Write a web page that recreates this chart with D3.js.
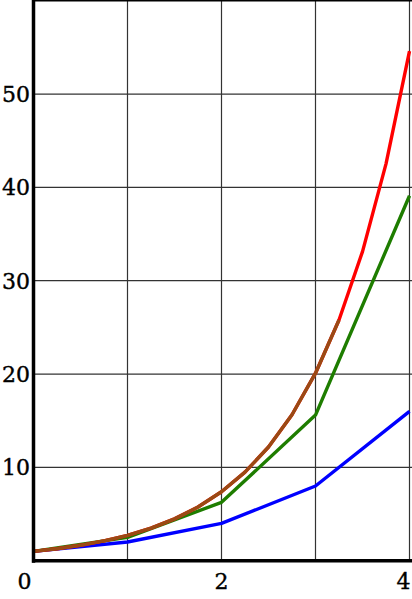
<!DOCTYPE html>
<html><head><meta charset="utf-8">
<script src="https://cdn.jsdelivr.net/npm/d3@7"></script>
<style>body{margin:0;background:#fff}svg{display:block}</style>
</head><body>
<script>
const xTicks = [0, 2, 4];
const yTicks = [10, 20, 30, 40, 50];
const xGrid = [1, 2, 3, 4];
const blueX = [0, 1, 2, 3, 4];
const blueY = [1, 2, 4, 8, 16];
const greenX = [0, 1, 2, 3, 4];
const greenY = [1, 2.5, 6.25, 15.6, 39.1];
const redX = [0, 0.25, 0.5, 0.75, 1, 1.25, 1.5, 1.75, 2, 2.25, 2.5, 2.75, 3, 3.25, 3.5, 3.75, 4];
const redY = [1, 1.28, 1.65, 2.12, 2.72, 3.49, 4.48, 5.75, 7.39, 9.49, 12.18, 15.64, 20.09, 25.79, 33.12, 42.52, 54.6];
const brownX = [0, 0.25, 0.5, 0.75, 1, 1.25, 1.5, 1.75, 2, 2.25, 2.5, 2.75, 3, 3.25];
const brownY = [1, 1.28, 1.65, 2.12, 2.72, 3.49, 4.48, 5.75, 7.39, 9.49, 12.18, 15.64, 20.09, 25.79];

const W = 412, H = 599;
const svg = d3.select("body").append("svg").attr("width", W).attr("height", H);
const x = d3.scaleLinear().domain([0, 4]).range([33.5, 409.5]);
const y = d3.scaleLinear().domain([0, 60]).range([560.7, 0.7]);

// grid
svg.append("g").selectAll("line").data(xGrid).join("line")
  .attr("x1", d => x(d)).attr("x2", d => x(d)).attr("y1", 0).attr("y2", y(0))
  .attr("stroke", "#333").attr("stroke-width", 1.2);
svg.append("g").selectAll("line").data(yTicks).join("line")
  .attr("x1", x(0)).attr("x2", W).attr("y1", d => y(d)).attr("y2", d => y(d))
  .attr("stroke", "#333").attr("stroke-width", 1.2);
// top border
svg.append("line").attr("x1", x(0)).attr("x2", W).attr("y1", 0.8).attr("y2", 0.8)
  .attr("stroke", "#000").attr("stroke-width", 1.6);

const line = d3.line().x(d => x(d[0])).y(d => y(d[1]));
const series = [
  {xs: blueX, ys: blueY, c: "#0000ff"},
  {xs: greenX, ys: greenY, c: "#1e7d00"},
  {xs: redX, ys: redY, c: "#ff0000"},
  {xs: brownX, ys: brownY, c: "#9a4a14"}
];
series.forEach(s => {
  svg.append("path").datum(s.xs.map((v, i) => [v, s.ys[i]]))
    .attr("d", line).attr("fill", "none").attr("stroke", s.c)
    .attr("stroke-width", 3.4).attr("stroke-linejoin", "round");
});

// axes lines
svg.append("line").attr("x1", x(0)).attr("x2", x(0)).attr("y1", 0).attr("y2", y(0) + 2)
  .attr("stroke", "#000").attr("stroke-width", 3.5);
svg.append("line").attr("x1", x(0) - 1.5).attr("x2", W).attr("y1", y(0)).attr("y2", y(0))
  .attr("stroke", "#000").attr("stroke-width", 3.5);

const font = "'DejaVu Serif', serif";
// y labels
svg.append("g").selectAll("text").data(yTicks).join("text")
  .attr("x", 30).attr("y", d => y(d)).attr("dy", "0.36em")
  .attr("text-anchor", "end").attr("font-family", font).attr("font-size", 22)
  .attr("fill", "#000").attr("stroke", "#000").attr("stroke-width", 0.4).text(d => d);
// x labels
const dxs = {0: -9, 2: 0, 4: -6};
svg.append("g").selectAll("text").data(xTicks).join("text")
  .attr("x", d => x(d) + dxs[d]).attr("y", 589)
  .attr("text-anchor", "middle").attr("font-family", font).attr("font-size", 22)
  .attr("fill", "#000").attr("stroke", "#000").attr("stroke-width", 0.4).text(d => d);
</script>
</body></html>
